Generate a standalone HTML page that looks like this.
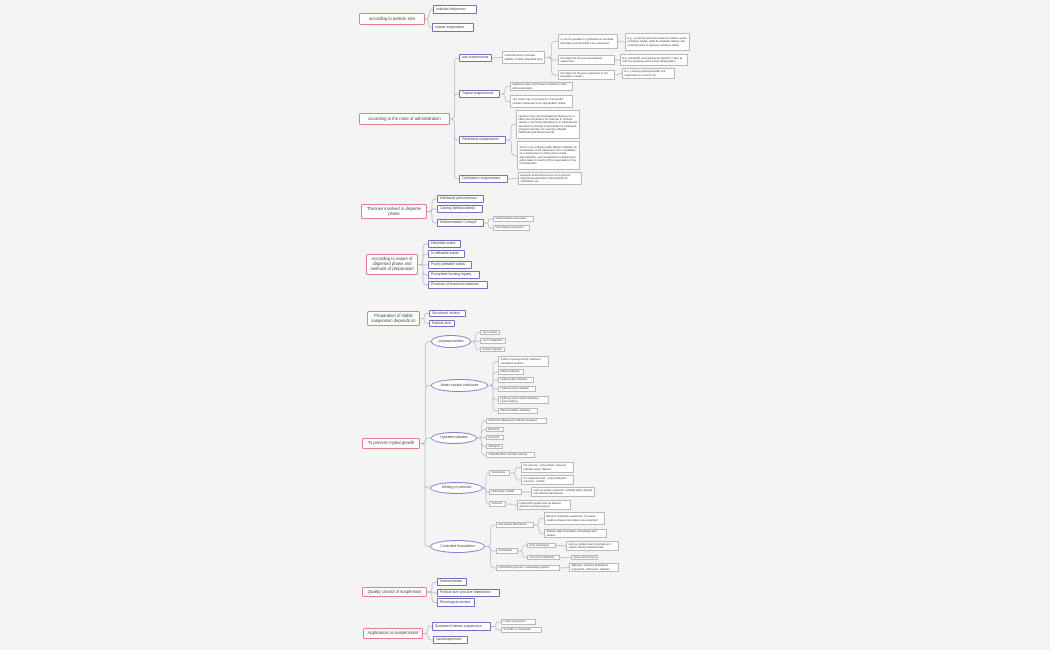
<!DOCTYPE html>
<html><head><meta charset="utf-8">
<style>
html,body{margin:0;padding:0;}
body{width:1050px;height:650px;background:#f4f4f5;position:relative;overflow:hidden;font-family:"Liberation Sans",sans-serif;}
svg{position:absolute;left:0;top:0;}
.n{position:absolute;box-sizing:border-box;background:#fff;display:flex;align-items:center;overflow:hidden;line-height:1.12;color:#444;}
.r{border:1px solid #e57f85;border-radius:2px;font-size:4.2px;justify-content:center;text-align:center;padding:0 2px;}
.b{border:1px solid #6f72c2;border-radius:1px;font-size:3.5px;padding:0 2px;white-space:nowrap;}
.g{border:1px solid #b8b8c0;font-size:2.7px;padding:0 1.5px;}
.e{border:1px solid #7b7fd0;border-radius:50%;font-size:3.5px;justify-content:center;text-align:center;white-space:nowrap;}
</style></head><body>
<svg id="s" width="1050" height="650"></svg>

<div class="n r" id="R1" style="left:359px;top:13px;width:66px;height:12px">according to particle size</div>
<div class="n b" id="a1" style="left:433px;top:5px;width:44px;height:9px">colloidal dispersion</div>
<div class="n b" id="a2" style="left:432px;top:23px;width:42px;height:9px">coarse suspension</div>

<div class="n r" id="R2" style="left:359px;top:113px;width:91px;height:12px">according to the route of administration</div>
<div class="n b" id="b1" style="left:459px;top:54px;width:33px;height:8px">oral suspensions</div>
<div class="n b" id="b2" style="left:459px;top:90px;width:41px;height:8px">Topical suspensions</div>
<div class="n b" id="b3" style="left:459px;top:136px;width:47px;height:8px">Parenteral suspensions</div>
<div class="n b" id="b4" style="left:459px;top:175px;width:49px;height:8px">Ophthalmic suspensions</div>
<div class="n g" id="b11" style="left:502px;top:51px;width:43px;height:13px">methods used to increase stability of easily degraded drug</div>
<div class="n g" id="b111" style="left:558px;top:34px;width:60px;height:15px">it may be possible to synthesize an insoluble derivative and formulate it as suspension</div>
<div class="n g" id="b112" style="left:558px;top:55px;width:57px;height:10px">formulate the drug as reconstituted suspension</div>
<div class="n g" id="b113" style="left:558px;top:70px;width:57px;height:10px">formulate the drug as suspension in oil ( degrades in water )</div>
<div class="n g" id="b1111" style="left:625px;top:33px;width:65px;height:18px">E.g. ( oxytetracycline HCl aqueous solution would hydrolyze rapidly, while its insoluble calcium salt oxytetracycline in aqueous vehicle is stable.</div>
<div class="n g" id="b1121" style="left:620px;top:54px;width:68px;height:12px">E.g. (Ampicillin reconstituted its shelf life 7 days at room temperature and 14 days refrigerated ).</div>
<div class="n g" id="b1131" style="left:622px;top:68px;width:53px;height:11px">E.g. ( phenoxymethylpenicillin oral suspension in coconut oil ).</div>
<div class="n g" id="b21" style="left:510px;top:82px;width:63px;height:9px">Calamine lotion which leave a deposit on skin after evaporation</div>
<div class="n g" id="b22" style="left:510px;top:95px;width:63px;height:13px">zinc cream has a consistency of semisolid powders dispersed in an oily(paraffin) phase.</div>
<div class="n g" id="b31" style="left:516px;top:110px;width:64px;height:29px">vaccines :they are formulated as dispersions of killed microorganisms for example in Cholera vaccine or as toxoid adsorbed on to substrate like aluminium hydroxide or phosphate for prolonged antigenic stimulus, for example colloidal Diphtheria and Tetanus toxoid.</div>
<div class="n g" id="b32" style="left:517px;top:141px;width:63px;height:29px">Some x-ray contrast media :Barium sulphate, for examination of the alimentary tract, is available as a suspension for either oral or rectal administration, and propyliodone is dispersed in either water or arachis oil for examination of the bronchial tract.</div>
<div class="n g" id="b41" style="left:518px;top:172px;width:64px;height:13px">Example fractioned coconut oil is used for dispersing tetracycline hydrochloride for ophthalmic use.</div>

<div class="n r" id="R3" style="left:361px;top:204px;width:66px;height:15px">Theories involved in disperse phase</div>
<div class="n b" id="c1" style="left:437px;top:195px;width:47px;height:8px">Interfacial phenomenon</div>
<div class="n b" id="c2" style="left:437px;top:205px;width:46px;height:8px">Caking (deflocculated)</div>
<div class="n b" id="c3" style="left:437px;top:219px;width:47px;height:8px">Sedimentation Concept</div>
<div class="n g" id="c31" style="left:493px;top:216px;width:41px;height:6px;white-space:nowrap">Deflocculated suspension</div>
<div class="n g" id="c32" style="left:493px;top:225px;width:37px;height:6px;white-space:nowrap">Flocculated suspension</div>

<div class="n r" id="R4" style="left:366px;top:254px;width:52px;height:21px">According to nature of dispersed phase and methods of preparation</div>
<div class="n b" id="d1" style="left:428px;top:240px;width:33px;height:8px">Diffusible solids</div>
<div class="n b" id="d2" style="left:428px;top:250px;width:37px;height:8px">In diffusible solids</div>
<div class="n b" id="d3" style="left:428px;top:261px;width:44px;height:8px">Poorly wettable solids</div>
<div class="n b" id="d4" style="left:428px;top:271px;width:52px;height:8px">Precipitate forming liquids</div>
<div class="n b" id="d5" style="left:428px;top:281px;width:60px;height:8px">Products of chemical reactions</div>

<div class="n r" id="R5" style="left:367px;top:311px;width:53px;height:15px">Preparation of stable suspension depends on</div>
<div class="n b" id="p1" style="left:429px;top:310px;width:37px;height:7px">Structured vehicle</div>
<div class="n b" id="p2" style="left:429px;top:320px;width:26px;height:7px">Particle size</div>

<div class="n r" id="R6" style="left:362px;top:438px;width:58px;height:11px">To prevent crystal growth</div>
<div class="n e" id="e1" style="left:431px;top:335px;width:40px;height:13px">polysaccharides</div>
<div class="n e" id="e2" style="left:431px;top:379px;width:57px;height:13px">Water-soluble celluloses</div>
<div class="n e" id="e3" style="left:431px;top:432px;width:46px;height:12px">Hydrated silicates</div>
<div class="n e" id="e4" style="left:430px;top:482px;width:53px;height:12px">Wetting of particles</div>
<div class="n e" id="e5" style="left:430px;top:540px;width:55px;height:13px">Controlled flocculation</div>
<div class="n g" id="e11" style="left:480px;top:330px;width:20px;height:5px;white-space:nowrap">Gum Acacia</div>
<div class="n g" id="e12" style="left:480px;top:338px;width:26px;height:6px;white-space:nowrap">Gum Tragacanth</div>
<div class="n g" id="e13" style="left:480px;top:347px;width:25px;height:5px;white-space:nowrap">Sodium Alginate</div>
<div class="n g" id="e21" style="left:498px;top:356px;width:51px;height:11px">Sodium Carboxymethyl cellulose ( carmellose sodium)</div>
<div class="n g" id="e22" style="left:498px;top:369px;width:26px;height:6px;white-space:nowrap">Methyl cellulose</div>
<div class="n g" id="e23" style="left:498px;top:377px;width:36px;height:6px;white-space:nowrap">Hydroxyethyl cellulose</div>
<div class="n g" id="e24" style="left:498px;top:386px;width:38px;height:6px;white-space:nowrap">Hydroxypropyl cellulose</div>
<div class="n g" id="e25" style="left:498px;top:396px;width:51px;height:8px">Hydroxypropyl methyl cellulose ( Hypermellose)</div>
<div class="n g" id="e26" style="left:498px;top:408px;width:40px;height:6px;white-space:nowrap">Microcrystalline cellulose</div>
<div class="n g" id="e31" style="left:486px;top:418px;width:61px;height:6px;white-space:nowrap">Aluminium Magnesium Silicate (veegum)</div>
<div class="n g" id="e32" style="left:486px;top:427px;width:18px;height:5px;white-space:nowrap">Bentonite</div>
<div class="n g" id="e33" style="left:486px;top:435px;width:18px;height:5px;white-space:nowrap">Hectorite</div>
<div class="n g" id="e34" style="left:486px;top:444px;width:17px;height:5px;white-space:nowrap">Sarkopsis</div>
<div class="n g" id="e35" style="left:486px;top:452px;width:49px;height:6px;white-space:nowrap">Colloidal Silicon dioxide (aerosil)</div>
<div class="n g" id="e41" style="left:489px;top:470px;width:21px;height:6px;white-space:nowrap">Surfactants</div>
<div class="n g" id="e411" style="left:521px;top:462px;width:53px;height:11px">For oral use : polysorbate ( tweens), sorbitan esters (Spans)</div>
<div class="n g" id="e412" style="left:521px;top:475px;width:53px;height:10px">For parenteral use : polyoxyalkylene polymers . lecithin</div>
<div class="n g" id="e42" style="left:489px;top:489px;width:33px;height:6px;white-space:nowrap">Hydrophilic colloids</div>
<div class="n g" id="e421" style="left:531px;top:487px;width:64px;height:10px">such as acacia, bentonite, colloidal silicon dioxide and cellulose derivatives</div>
<div class="n g" id="e43" style="left:489px;top:501px;width:17px;height:6px;white-space:nowrap">Solvents</div>
<div class="n g" id="e431" style="left:517px;top:500px;width:54px;height:10px">Hydrophilic liquids such as alcohol, glycerol, propylene glycol</div>
<div class="n g" id="e51" style="left:496px;top:522px;width:38px;height:6px;white-space:nowrap">Electrolytes Mechanism</div>
<div class="n g" id="e511" style="left:544px;top:512px;width:61px;height:13px">Bismuth subnitrate suspension ( possess positive charge and positive zeta potential )</div>
<div class="n g" id="e512" style="left:544px;top:529px;width:63px;height:9px">Sodium salts of acetates, phosphates and citrates</div>
<div class="n g" id="e52" style="left:496px;top:548px;width:22px;height:6px;white-space:nowrap">Surfactants</div>
<div class="n g" id="e521" style="left:527px;top:543px;width:29px;height:5px;white-space:nowrap">Ionic surfactants</div>
<div class="n g" id="e5211" style="left:566px;top:541px;width:53px;height:10px">such as sodium lauryl sulphate and sodium dioctyl sulfosuccinate</div>
<div class="n g" id="e522" style="left:527px;top:555px;width:33px;height:5px;white-space:nowrap">non-ionic surfactants</div>
<div class="n g" id="e5221" style="left:571px;top:555px;width:27px;height:5px;white-space:nowrap">Spans and Tweens</div>
<div class="n g" id="e53" style="left:496px;top:565px;width:64px;height:6px;white-space:nowrap">Hydrophilic polymers ( suspending agents )</div>
<div class="n g" id="e531" style="left:569px;top:563px;width:50px;height:9px">alginates, cellulose derivatives, tragacanth, carbomers, silicates.</div>

<div class="n r" id="R7" style="left:362px;top:587px;width:65px;height:10px">Quality control of suspension</div>
<div class="n b" id="q1" style="left:437px;top:578px;width:30px;height:8px">Sedimentation</div>
<div class="n b" id="q2" style="left:437px;top:589px;width:63px;height:8px">Particle size and size distribution</div>
<div class="n b" id="q3" style="left:437px;top:598px;width:38px;height:9px">Rheological studies</div>

<div class="n r" id="R8" style="left:363px;top:628px;width:60px;height:11px">Application on suspensions</div>
<div class="n b" id="s1" style="left:432px;top:622px;width:59px;height:9px">Sustained release suspension</div>
<div class="n b" id="s2" style="left:433px;top:636px;width:35px;height:8px">nanosuspension</div>
<div class="n g" id="s11" style="left:501px;top:619px;width:35px;height:6px;white-space:nowrap">Insulin suspension</div>
<div class="n g" id="s12" style="left:501px;top:627px;width:41px;height:6px;white-space:nowrap">Penicillin G suspension</div>

<script>
var E=[["R1","a1"],["R1","a2"],["R2","b1"],["R2","b2"],["R2","b3"],["R2","b4"],["b1","b11"],["b11","b111"],["b11","b112"],["b11","b113"],["b111","b1111"],["b112","b1121"],["b113","b1131"],["b2","b21"],["b2","b22"],["b3","b31"],["b3","b32"],["b4","b41"],
["R3","c1"],["R3","c2"],["R3","c3"],["c3","c31"],["c3","c32"],["R4","d1"],["R4","d2"],["R4","d3"],["R4","d4"],["R4","d5"],["R5","p1"],["R5","p2"],
["R6","e1"],["R6","e2"],["R6","e3"],["R6","e4"],["R6","e5"],["e1","e11"],["e1","e12"],["e1","e13"],["e2","e21"],["e2","e22"],["e2","e23"],["e2","e24"],["e2","e25"],["e2","e26"],["e3","e31"],["e3","e32"],["e3","e33"],["e3","e34"],["e3","e35"],
["e4","e41"],["e4","e42"],["e4","e43"],["e41","e411"],["e41","e412"],["e42","e421"],["e43","e431"],["e5","e51"],["e5","e52"],["e5","e53"],["e51","e511"],["e51","e512"],["e52","e521"],["e52","e522"],["e521","e5211"],["e522","e5221"],["e53","e531"],
["R7","q1"],["R7","q2"],["R7","q3"],["R8","s1"],["R8","s2"],["s1","s11"],["s1","s12"]];
var s=document.getElementById("s"),d="";
function g(id){var e=document.getElementById(id);return{l:e.offsetLeft,t:e.offsetTop,w:e.offsetWidth,h:e.offsetHeight};}
E.forEach(function(p){var a=g(p[0]),b=g(p[1]);var x1=a.l+a.w,y1=a.t+a.h/2,x2=b.l,y2=b.t+b.h/2;var xm=x1+Math.min(8,(x2-x1)/2);
var r=Math.min(4,Math.abs(y2-y1)/2);var sg=y2>y1?1:-1;
if(Math.abs(y2-y1)<1){d+="M"+x1+" "+y1+"L"+x2+" "+y2;}else{d+="M"+x1+" "+y1+"L"+(xm-r)+" "+y1+"Q"+xm+" "+y1+" "+xm+" "+(y1+sg*r)+"L"+xm+" "+(y2-sg*r)+"Q"+xm+" "+y2+" "+(xm+r)+" "+y2+"L"+x2+" "+y2;}});
s.innerHTML='<path d="'+d+'" fill="none" stroke="#b4b7c8" stroke-width="0.7"/>';
</script>
</body></html>
